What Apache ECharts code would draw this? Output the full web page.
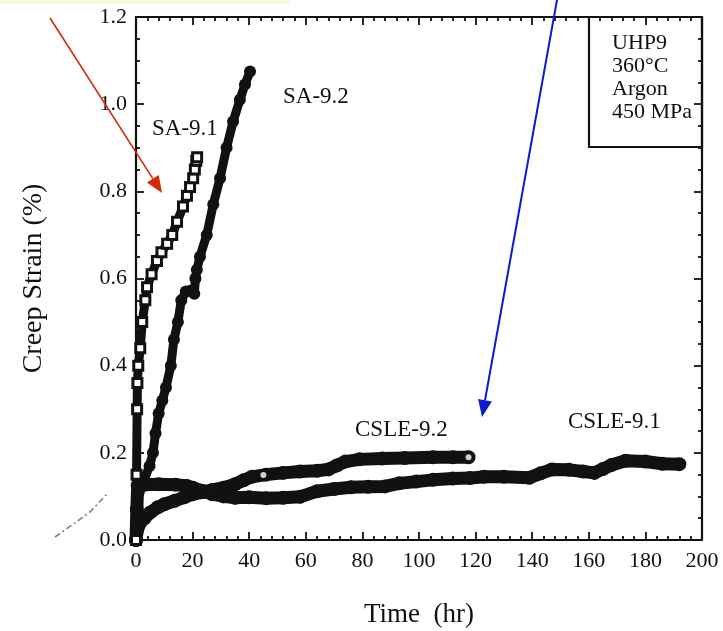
<!DOCTYPE html>
<html>
<head>
<meta charset="utf-8">
<script src="https://cdn.jsdelivr.net/npm/echarts/dist/echarts.min.js"></script>
<style>
  html, body { margin: 0; padding: 0; background: #ffffff; }
  #chart { width: 723px; height: 631px; }
</style>
</head>
<body>
<div id="chart"></div>
<script>
// Creep strain (%) vs time (hr), UHP9 at 360°C in argon, 450 MPa.
// Each series: [time (hr), creep strain (%)]
const sa91 = [[0,0],[0.2,0.15],[0.4,0.3],[0.5,0.36],[0.8,0.40],[1.5,0.44],[2.2,0.50],[3.3,0.55],[3.9,0.58],[5.5,0.61],[7.4,0.64],[9,0.66],[11,0.68],[12.8,0.70],[14.5,0.73],[16.6,0.765],[18,0.79],[19.1,0.81],[20.2,0.83],[20.8,0.85],[21.3,0.87],[21.6,0.878]];
const sa92 = [[0,0],[0.4,0.06],[1,0.11],[3,0.14],[4.8,0.17],[6,0.2],[6.9,0.245],[8,0.29],[9.3,0.32],[10.6,0.35],[12.3,0.40],[13.4,0.46],[14.8,0.50],[16,0.55],[17.6,0.57],[19.2,0.572],[20.6,0.565],[21,0.6],[21.5,0.62],[22.6,0.65],[25,0.70],[27.3,0.77],[29.7,0.83],[32,0.90],[34.3,0.96],[36.7,1.01],[38.5,1.045],[40.3,1.075]];
const csle91 = [[0,0],[0.3,0.07],[0.6,0.125],[3,0.127],[8,0.128],[14,0.127],[18,0.124],[20,0.12],[24,0.112],[27,0.105],[31,0.1],[35,0.097],[40,0.098],[46,0.096],[52,0.097],[58,0.099],[64,0.112],[70,0.117],[76,0.121],[82,0.122],[88,0.123],[93,0.13],[99,0.134],[105,0.138],[112,0.141],[118,0.142],[123,0.145],[130,0.145],[139,0.143],[143,0.153],[147,0.162],[153,0.161],[158,0.157],[162,0.154],[165,0.163],[168,0.172],[173,0.182],[180,0.18],[186,0.175],[192,0.174]];
const csle92 = [[0,0],[0.5,0.025],[1.5,0.04],[3,0.05],[5,0.063],[7.7,0.075],[10,0.082],[13.7,0.09],[17,0.098],[20,0.105],[24,0.11],[27,0.115],[31,0.12],[35,0.128],[38,0.137],[41,0.145],[46,0.15],[52,0.154],[58,0.157],[64,0.159],[68,0.162],[71,0.171],[74,0.18],[79,0.185],[87,0.187],[95,0.188],[105,0.19],[112,0.19],[117.5,0.19]];
// open (hollow) points along the CSLE-9.2 record
const csle92Open = [[45,0.149],[117.5,0.19]];

const xMin = 0, xMax = 200, xStep = 20;
const yMin = 0, yMax = 1.2, yStep = 0.2;

const serif = '"Liberation Serif", "DejaVu Serif", serif';
const ink = '#111111';

const chart = echarts.init(document.getElementById('chart'), null, { renderer: 'canvas' });

function frameAxis(pos, withLabels, isX) {
  const ax = {
    type: 'value',
    position: pos,
    min: isX ? xMin : yMin,
    max: isX ? xMax : yMax,
    interval: isX ? xStep : yStep,
    axisLine: { show: true, onZero: false, lineStyle: { color: ink, width: 2.2 } },
    axisTick: { show: true, inside: true, length: 8, lineStyle: { color: ink, width: 1.8 } },
    minorTick: { show: true, splitNumber: isX ? 5 : 4, length: 4, lineStyle: { color: ink, width: 1.8 } },
    splitLine: { show: false },
    minorSplitLine: { show: false },
    axisLabel: { show: false }
  };
  if (withLabels) {
    ax.axisLabel = {
      show: true, color: ink, fontFamily: serif, fontSize: 22,
      margin: isX ? 10 : 9,
      formatter: isX ? (v => String(v)) : (v => v.toFixed(1))
    };
  }
  return ax;
}

const xBottom = frameAxis('bottom', true, true);
xBottom.name = 'Time  (hr)';
xBottom.nameLocation = 'middle';
xBottom.nameGap = 61;
xBottom.nameTextStyle = { color: ink, fontFamily: serif, fontSize: 27 };

const yLeft = frameAxis('left', true, false);
yLeft.name = 'Creep Strain (%)';
yLeft.nameLocation = 'middle';
yLeft.nameGap = 88;
yLeft.nameTextStyle = { color: ink, fontFamily: serif, fontSize: 28 };

function arrow(x1, y1, x2, y2, color, width) {
  const dx = x2 - x1, dy = y2 - y1;
  const len = Math.sqrt(dx * dx + dy * dy);
  const ux = dx / len, uy = dy / len;
  const hl = 17, hw = 7;
  const bx = x2 - ux * hl, by = y2 - uy * hl;
  return [
    { type: 'line', shape: { x1: x1, y1: y1, x2: bx, y2: by }, style: { stroke: color, lineWidth: width }, z: 100 },
    { type: 'polygon', shape: { points: [[x2, y2], [bx - uy * hw, by + ux * hw], [bx + uy * hw, by - ux * hw]] }, style: { fill: color }, z: 100 }
  ];
}

const labelStyle = (txt, x, y) => ({
  type: 'text', left: x, top: y,
  style: { text: txt, fill: ink, font: '23px ' + serif, textVerticalAlign: 'middle' },
  z: 50
});

const option = {
  backgroundColor: '#ffffff',
  animation: false,
  grid: { left: 136, right: 21, top: 17, bottom: 91, containLabel: false, outerBoundsMode: 'none' },
  xAxis: [xBottom, frameAxis('top', false, true)],
  yAxis: [yLeft, frameAxis('right', false, false)],
  series: [
    {
      name: 'CSLE-9.1', type: 'line', data: csle91, xAxisIndex: 0, yAxisIndex: 0,
      symbol: 'circle', symbolSize: 14, showSymbol: true,
      itemStyle: { color: ink },
      lineStyle: { color: ink, width: 13, join: 'round', cap: 'round' },
      z: 2
    },
    {
      name: 'CSLE-9.2', type: 'line', data: csle92, xAxisIndex: 0, yAxisIndex: 0,
      symbol: 'circle', symbolSize: 14, showSymbol: true,
      itemStyle: { color: ink },
      lineStyle: { color: ink, width: 13, join: 'round', cap: 'round' },
      z: 3
    },
    {
      name: 'CSLE-9.2 open', type: 'scatter', data: csle92Open, xAxisIndex: 0, yAxisIndex: 0,
      symbol: 'circle', symbolSize: 6,
      itemStyle: { color: '#ffffff' },
      z: 4
    },
    {
      name: 'SA-9.2', type: 'line', data: sa92, xAxisIndex: 0, yAxisIndex: 0,
      symbol: 'circle', symbolSize: 12, showSymbol: true,
      itemStyle: { color: ink },
      lineStyle: { color: ink, width: 9, join: 'round' },
      z: 5
    },
    {
      name: 'SA-9.1', type: 'line', data: sa91, xAxisIndex: 0, yAxisIndex: 0,
      symbol: 'rect', symbolSize: 9, showSymbol: true,
      itemStyle: { color: '#ffffff', borderColor: ink, borderWidth: 3 },
      lineStyle: { color: ink, width: 9, join: 'round' },
      z: 6
    }
  ],
  graphic: [
    // highlight strip at the top edge
    { type: 'rect', shape: { x: 0, y: 0, width: 290, height: 4 }, style: { fill: '#fcf9dc' }, z: 1 },
    // test-condition box
    { type: 'rect', shape: { x: 589, y: 17, width: 113, height: 130 }, style: { fill: 'none', stroke: ink, lineWidth: 2.2 }, z: 40 },
    { type: 'text', left: 612, top: 32,
      style: { text: 'UHP9\n360°C\nArgon\n450 MPa', fill: ink, font: '22px ' + serif, lineHeight: 23 }, z: 50 },
    labelStyle('SA-9.1', 152, 117),
    labelStyle('SA-9.2', 283, 85),
    labelStyle('CSLE-9.2', 355, 418),
    labelStyle('CSLE-9.1', 568, 410),
    // faint pencil trace at lower left
    { type: 'polyline', shape: { points: [[55, 537], [72, 525], [90, 512], [108, 493]] },
      style: { stroke: '#555555', lineWidth: 1.6, lineDash: [6, 3, 2, 3], opacity: 0.75 }, z: 30 },
    ...arrow(50, 18, 162, 193, '#d42a0a', 1.6),
    ...arrow(557, 0, 482, 417, '#0a1ccc', 2)
  ]
};

chart.setOption(option);
</script>
</body>
</html>
